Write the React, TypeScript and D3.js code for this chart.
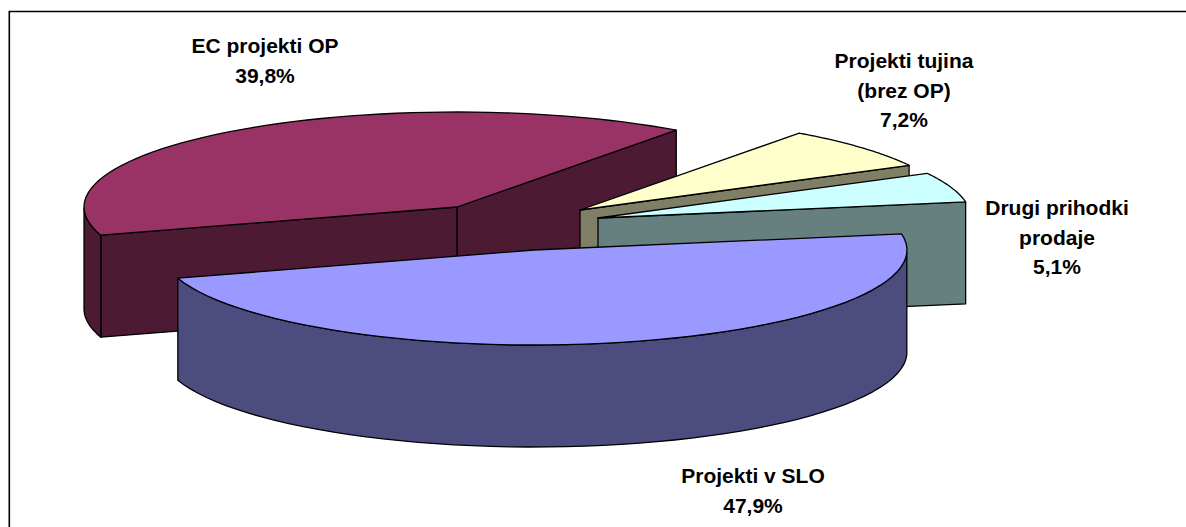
import React from "react";
import * as d3 from "d3";

const categories = ["EC projekti OP", "Projekti v SLO", "Drugi prihodki prodaje", "Projekti tujina (brez OP)"];
const values = [39.8, 47.9, 5.1, 7.2];
const labelLines = [["EC projekti OP", "39,8%"], ["Projekti v SLO", "47,9%"], ["Drugi prihodki", "prodaje", "5,1%"], ["Projekti tujina", "(brez OP)", "7,2%"]];
const topColors = ["#993366", "#9999FF", "#CCFFFF", "#FFFFCC"];
const sideColors = ["#4C1A33", "#4C4C7F", "#667F7F", "#7F7F66"];
const drawOrder = [0, 3, 2, 1];

const W = 1186, H = 527;
const RX = 373, RY = 95, DEPTH = 102;
const START_DEG = 54;
const apexes: [number, number][] = [[457, 207], [534, 250], [598, 218], [580, 210]];
const labelPos: [number, number][] = [[265, 53], [753, 483], [1057, 215], [904, 68]];
const LINE_H = 29.5;

const line = d3.line<[number, number]>();

export default function App() {
  const arcs = d3.pie<number>().sort(null).startAngle(0).endAngle(2 * Math.PI)(values);
  const pt = (i: number, deg: number): [number, number] => {
    const a = (deg * Math.PI) / 180;
    return [apexes[i][0] + RX * Math.cos(a), apexes[i][1] - RY * Math.sin(a)];
  };
  const down = (p: [number, number]): [number, number] => [p[0], p[1] + DEPTH];
  const slices = arcs.map((d, i) => {
    const from = START_DEG + (d.startAngle * 180) / Math.PI;
    const to = START_DEG + (d.endAngle * 180) / Math.PI;
    const degs = d3.range(0, 1.0001, 1 / 60).map((t) => from + (to - from) * t);
    return { i, from, to, degs };
  });
  return (
    <svg width={W} height={H} style={{ position: "absolute", left: 0, top: 0 }}>
      <rect width={W} height={H} fill="#fff" />
      <path d={`M9.3,${H}V11.5H${W}`} fill="none" stroke="#000" strokeWidth={1.6} />
      {drawOrder.map((idx) => {
        const { i, from, to, degs } = slices[idx];
        const apex = apexes[i];
        const rim = degs.map((g) => pt(i, g));
        const faces: [number, number][][] = [];
        if (Math.cos((from * Math.PI) / 180) > 0) faces.push([apex, pt(i, from), down(pt(i, from)), down(apex)]);
        if (Math.cos((to * Math.PI) / 180) < 0) faces.push([apex, pt(i, to), down(pt(i, to)), down(apex)]);
        const front = degs.filter((g) => Math.sin((g * Math.PI) / 180) <= 0);
        if (front.length > 1) {
          const r = front.map((g) => pt(i, g));
          faces.push([...r, ...r.slice().reverse().map(down)]);
        }
        return (
          <g key={categories[i]}>
            {faces.map((f, k) => (
              <path key={k} d={line(f) + "Z"} fill={sideColors[i]} stroke="#000" strokeWidth={1.3} strokeLinejoin="round" />
            ))}
            <path d={line([apex, ...rim]) + "Z"} fill={topColors[i]} stroke="#000" strokeWidth={1.3} strokeLinejoin="round" />
          </g>
        );
      })}
      {labelLines.map((ls, i) => (
        <text key={i} textAnchor="middle" fontFamily="'Liberation Sans', Arial, sans-serif" fontWeight="bold" fontSize={21} fill="#000">
          {ls.map((s, k) => (
            <tspan key={k} x={labelPos[i][0]} y={labelPos[i][1] + k * LINE_H}>{s}</tspan>
          ))}
        </text>
      ))}
    </svg>
  );
}
